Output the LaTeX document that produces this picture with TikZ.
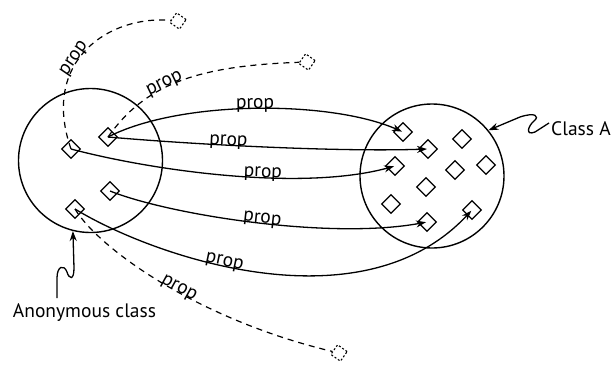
\documentclass[tikz,border=0pt]{standalone}
\usepackage{fontspec}
\setmainfont{PT Sans}
\usetikzlibrary{shapes.geometric,arrows.meta}
\begin{document}
\begin{tikzpicture}[x=1pt,y=-1pt,
  txt/.style={font=\fontsize{19.5}{22}\selectfont,inner sep=1pt},
  dmd/.style={diamond,draw,line width=1.3pt,minimum width=19pt,minimum height=19pt,inner sep=0pt},
  ghost/.style={diamond,draw,line width=1.1pt,dash pattern=on 2pt off 2pt,minimum width=17pt,minimum height=17pt,inner sep=0pt,rotate=10},
  rel/.style={line width=1.3pt,-{Stealth[length=10pt,width=7pt]},shorten >=1pt},
  ptr/.style={line width=1.3pt,-{Stealth[length=10pt,width=7pt]}},
  dsh/.style={line width=1.2pt,dash pattern=on 6pt off 5pt},
  lab/.style={txt,sloped,anchor=base},
  cls/.style={draw,circle,line width=1.4pt,minimum size=144pt,inner sep=0pt}]
\useasboundingbox (0,0) rectangle (613,365);
% circles
\node[cls] (anoncirc) at (90.5,160.5) {};
\node[cls] (classcirc) at (432,176) {};
% left diamonds
\node[dmd] (d1) at (108,137) {};
\node[dmd] (d2) at (71,149) {};
\node[dmd] (d3) at (110,191) {};
\node[dmd] (d4) at (75,209) {};
% right diamonds
\node[dmd] (r1) at (403,132) {};
\node[dmd] (r2) at (428,149) {};
\node[dmd] (r3) at (462,139) {};
\node[dmd] (r4) at (395,166) {};
\node[dmd] (r5) at (455,170) {};
\node[dmd] (r6) at (486,165) {};
\node[dmd] (r7) at (426,187) {};
\node[dmd] (r8) at (391,204) {};
\node[dmd] (r9) at (427,222) {};
\node[dmd] (r10) at (472,210) {};
% ghost diamonds
\node[ghost] (g1) at (178,21) {};
\node[ghost] (g2) at (307,62) {};
\node[ghost] (g3) at (339,353) {};
% dashed properties
\draw[dsh] (d2.center) .. controls (40,60) and (110,15) .. (g1) node[lab,pos=0.42]{prop};
\draw[dsh] (d1.center) .. controls (145,85) and (195,66) .. (g2) node[lab,pos=0.43]{prop};
\draw[dsh] (d4.center) .. controls (100,250) and (200,320) .. (g3) node[lab,pos=0.55]{prop};
% solid properties
\draw[rel] (d1.center) .. controls (180,100) and (330,100) .. (r1.center) node[lab,pos=0.5]{prop};
\draw[rel] (d1.center) .. controls (200,145) and (340,152) .. (r2.center) node[lab,pos=0.38]{prop};
\draw[rel] (d2.center) .. controls (150,170) and (300,192) .. (r4.center) node[lab,pos=0.6]{prop};
\draw[rel] (d3.center) .. controls (170,215) and (330,240) .. (r9.center) node[lab,pos=0.52]{prop};
\draw[rel] (d4.center) .. controls (150,255) and (360,330) .. (r10.center) node[lab,pos=0.42]{prop};
% labels
\node[txt,anchor=base west] (classA) at (550,135) {Class A};
\node[txt,anchor=base] (anon) at (84.5,317) {Anonymous class};
\coordinate (ca) at (549,123);
\coordinate (an) at (57,298);
\draw[ptr] (ca) -- (535,132) .. controls (525,136) and (528,126) .. (534,121) .. controls (540,116) and (535,112) .. (520,117) -- (classcirc.39);
\draw[ptr] (an) -- (57,278) .. controls (57,266) and (64,264) .. (67,272) .. controls (69,279) and (74,281) .. (74,268) -- (anoncirc.-104);
\end{tikzpicture}
\end{document}
